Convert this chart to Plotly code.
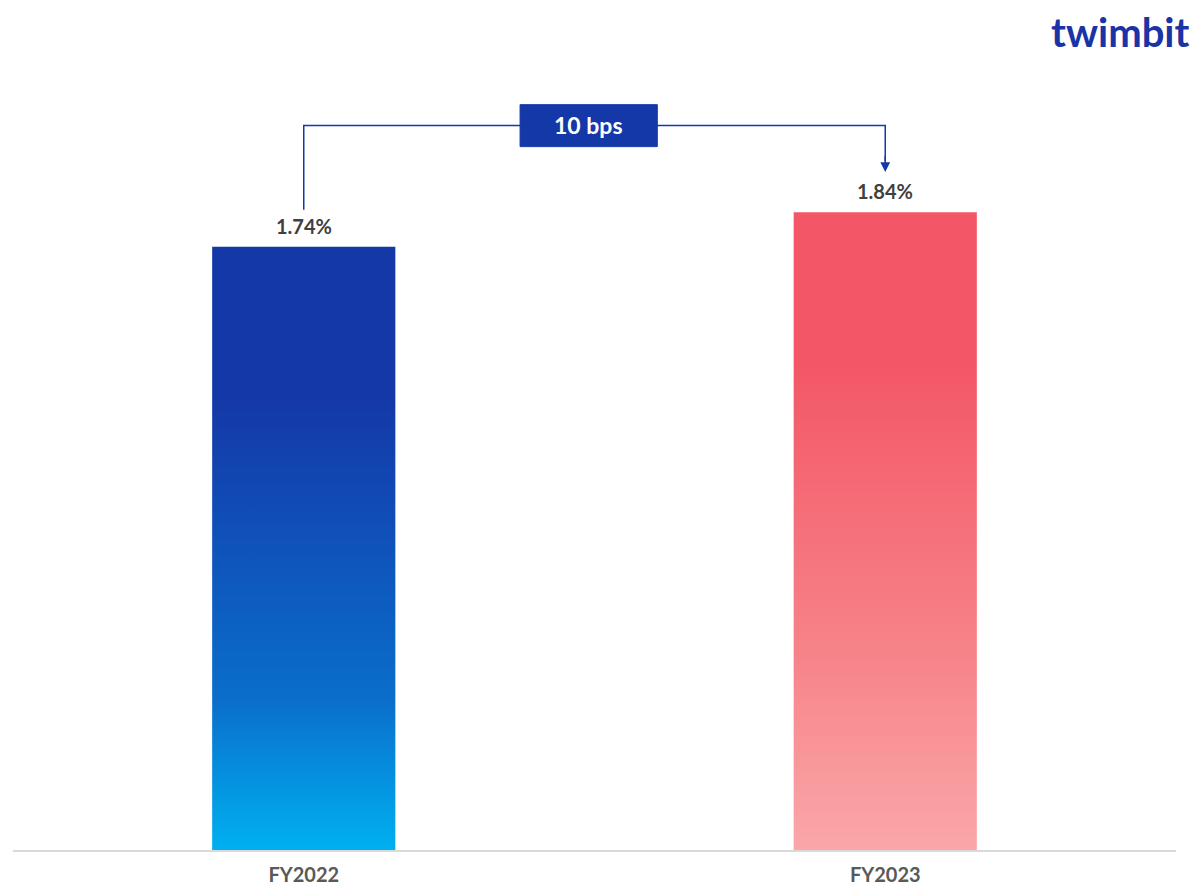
import plotly.graph_objects as go

categories = ["FY2022", "FY2023"]
values = [1.74, 1.84]
change_label = "10 bps"

bar_half = 0.1575
scales = [
    [[0, "#00B0F0"], [0.25, "#0A6ECB"], [0.75, "#1438A8"], [1, "#1438A8"]],
    [[0, "#FAA7A9"], [0.3, "#F7848A"], [0.77, "#F35666"], [1, "#F35666"]],
]

fig = go.Figure()
for i, (c, v) in enumerate(zip(categories, values)):
    xs = [i - bar_half, i + bar_half, i + bar_half, i - bar_half, i - bar_half]
    ys = [0, 0, v, v, 0]
    fig.add_trace(go.Scatter(
        x=xs, y=ys, mode="lines", fill="toself",
        line=dict(width=0),
        fillgradient=dict(type="vertical", colorscale=scales[i]),
        hoverinfo="skip", showlegend=False, name=c,
    ))
    fig.add_annotation(x=i, y=v, text=f"<b>{v:.2f}%</b>", showarrow=False,
                       yanchor="bottom", yshift=7,
                       font=dict(family="Lato", size=20, color="#404040"))

# bracket
blue = "#1438A8"
y_br = max(values) + 0.25
y_start = values[0] + 0.107
y_end = values[1] + 0.116
fig.add_trace(go.Scatter(
    x=[0, 0, 1, 1], y=[y_start, y_br, y_br, y_end + 0.03], mode="lines",
    line=dict(color=blue, width=1.5), hoverinfo="skip", showlegend=False,
))
fig.add_annotation(x=1, y=y_end, ax=1, ay=y_end + 0.05, axref="x", ayref="y",
                   xref="x", yref="y", showarrow=True, arrowhead=2,
                   arrowsize=1.3, arrowwidth=1.5, arrowcolor=blue, text="")
fig.add_shape(type="rect", x0=0.372, x1=0.608, y0=y_br - 0.061, y1=y_br + 0.06,
              fillcolor=blue, line=dict(color=blue, width=1), layer="above")
fig.add_annotation(x=0.49, y=y_br, text=f"<b>{change_label}</b>", showarrow=False,
                   font=dict(family="Lato", size=23, color="white"))

# logo
fig.add_annotation(xref="paper", yref="paper", x=1.0135, y=1.014, xanchor="right",
                   yanchor="top", text="<b>twimbit</b>", showarrow=False,
                   font=dict(family="Lato", size=40, color="#1A34A6", weight=900))

fig.update_layout(
    width=1192, height=886,
    margin=dict(l=13, r=16, t=18, b=36, autoexpand=False),
    paper_bgcolor="white", plot_bgcolor="white",
    xaxis=dict(range=[-0.5, 1.5], tickvals=[0, 1], ticktext=categories,
               showgrid=False, zeroline=False, showline=True, automargin=False,
               linecolor="#D9D9D9", linewidth=1.5, ticks="",
               ticklabelstandoff=6,
               tickfont=dict(family="Lato", size=20, color="#595959", weight="bold")),
    yaxis=dict(range=[0, 2.4], visible=False, showgrid=False, zeroline=False),
)

fig.write_html("out.html")
